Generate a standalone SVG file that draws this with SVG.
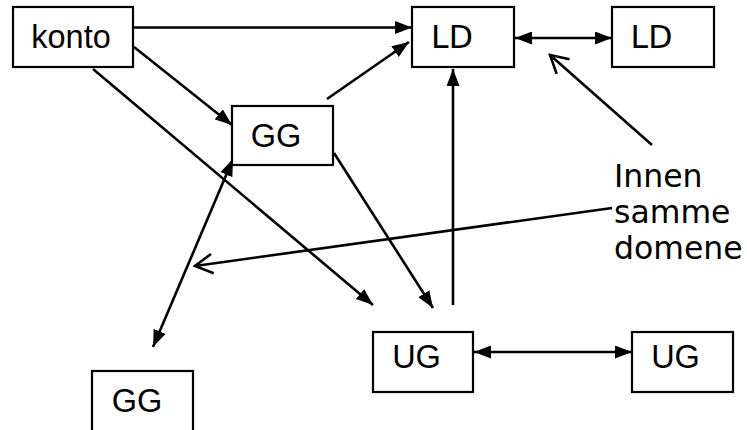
<svg xmlns="http://www.w3.org/2000/svg" width="747" height="430" viewBox="0 0 747 430">
<style>
.box{fill:#fff;stroke:#000;stroke-width:2.2}
.a{font-family:"Liberation Sans",Arial,sans-serif;font-size:32.5px;fill:#000;text-anchor:middle}
.v{font-family:"DejaVu Sans",Verdana,sans-serif;font-size:31.5px;fill:#000}
.c{stroke:#000;stroke-width:2.6;fill:none}
.f{marker-end:url(#ah)}
.d{marker-start:url(#ah);marker-end:url(#ah)}
.o{marker-end:url(#oh)}
</style>
<defs>
<marker id="ah" viewBox="0 0 17 13" refX="17" refY="6.5" markerWidth="17" markerHeight="13" markerUnits="userSpaceOnUse" orient="auto-start-reverse">
<path d="M0,0 L17,6.5 L0,13 z" fill="#000"/>
</marker>
<marker id="oh" viewBox="-21 -13 24 26" refX="0" refY="0" markerWidth="24" markerHeight="26" markerUnits="userSpaceOnUse" orient="auto">
<path d="M-17.5,-9.7 L0,0 L-17.5,9.7" fill="none" stroke="#000" stroke-width="2.6"/>
</marker>
</defs>
<rect width="747" height="430" fill="#fff"/>
<g id="connectors">
<path class="c f" d="M133,27.5 L412,27.5"/>
<path class="c f" d="M134,47 L232,125"/>
<path class="c f" d="M93,69 L373,305"/>
<path class="c f" d="M327,99 L409,42"/>
<path class="c f" d="M334,153 L433,308"/>
<path class="c f" d="M453,305 L453,69"/>
<path class="c d" d="M233,159 L153,347"/>
<path class="c d" d="M515,38 L612,38"/>
<path class="c d" d="M474,352 L632,352"/>
<path class="c o" d="M652,145 L550,55"/>
<path class="c o" d="M612,208 L195,266"/>
</g>
<g id="konto"><rect class="box" x="13" y="7" width="120" height="60"/><text class="a" x="71" y="47.5">konto</text></g>
<g id="gg1"><rect class="box" x="232" y="106" width="101" height="59"/><text class="a" x="276" y="146.5">GG</text></g>
<g id="ld1"><rect class="box" x="412" y="7" width="102" height="60"/><text class="v" x="452" y="47.5" text-anchor="middle">LD</text></g>
<g id="ld2"><rect class="box" x="612" y="7" width="102" height="60"/><text class="v" x="651.5" y="47.5" text-anchor="middle">LD</text></g>
<g id="ug1"><rect class="box" x="373" y="332" width="100" height="60"/><text class="a" x="416.5" y="368">UG</text></g>
<g id="ug2"><rect class="box" x="632" y="332" width="101" height="60"/><text class="a" x="675.5" y="368">UG</text></g>
<g id="gg2"><rect class="box" x="92" y="371" width="101" height="62"/><text class="a" x="137" y="411.5">GG</text></g>
<g id="note"><text class="v" x="614" y="187">Innen</text><text class="v" x="614" y="223">samme</text><text class="v" x="614" y="259">domene</text></g>
</svg>
